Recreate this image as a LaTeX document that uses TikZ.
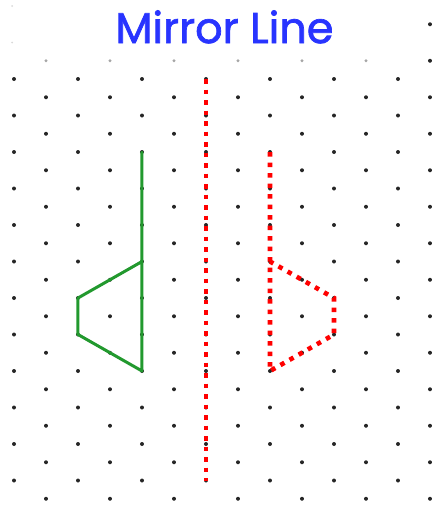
\documentclass[tikz,border=0pt]{standalone}
\usepackage{fontspec}
\newfontfamily\titlefont[FakeBold=1.6]{Poppins}
\definecolor{penblue}{RGB}{40,52,255}
\definecolor{pengreen}{RGB}{34,153,46}
\definecolor{penred}{RGB}{255,0,0}
\begin{document}
\begin{tikzpicture}[x=32pt,y=-18.25pt,
    dot/.style={fill=black!85},
    shape line/.style={pengreen,line width=3pt,line join=round,line cap=round},
    mirror dots/.style={penred,line width=4.6pt,dash pattern=on 4.6pt off 5.9pt}]
  \useasboundingbox (-0.4375,-4.329) rectangle (13.0625,23.507);
  % dot paper
  \foreach \i in {0,2,...,12}
    \foreach \j in {0,2,...,22}
      \fill[dot] (\i,\j) circle (2pt);
  \foreach \i in {1,3,...,13}
    \foreach \j in {1,3,...,23}
      \fill[dot] (\i,\j) circle (2pt);
  \foreach \i in {1,3,...,11}
    \fill[black!35] (\i,-1) circle (1.6pt);
  \fill[dot] (13,-1) circle (2pt);
  \fill[dot] (13,-3) circle (2pt);
  \fill[black!15] (-0.06,-2) circle (1pt);
  \fill[black!15] (-0.06,-4) circle (1pt);
  \node[penblue,anchor=base,font=\titlefont\fontsize{43}{50}\selectfont] (title) at (6.578,-1.97) {Mirror Line};
  % shape and its image
  \draw[shape line] (4,4) -- (4,16) -- (2,14) -- (2,12) -- (4,10);
  \draw[mirror dots] (6,0) -- (6,22);
  \draw[mirror dots] (8,4) -- (8,16) -- (10,14) -- (10,12) -- (8,10);
\end{tikzpicture}
\end{document}
